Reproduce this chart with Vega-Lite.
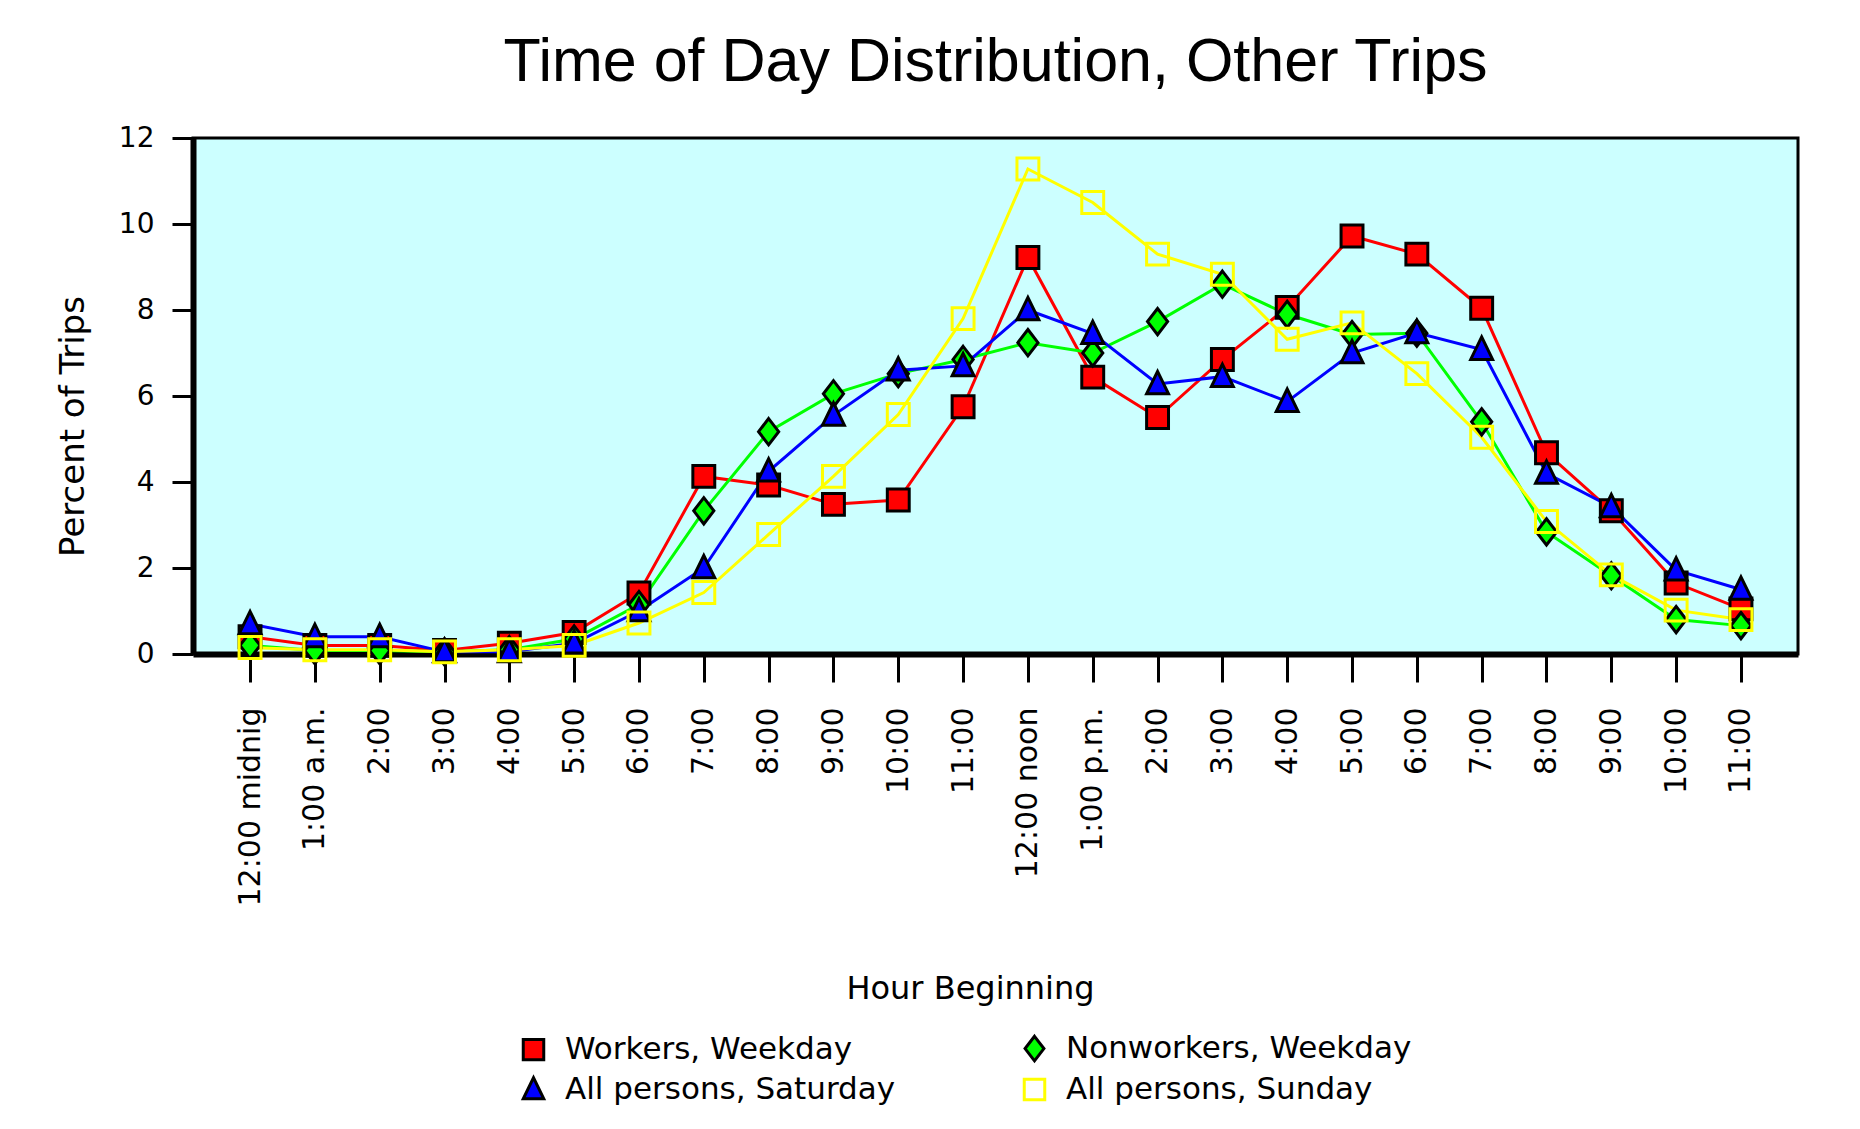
{
  "$schema": "https://vega.github.io/schema/vega-lite/v6.json",
  "autosize": {"type": "none"},
  "padding": {"left": 193, "top": 138, "right": 62, "bottom": 475},
  "width": 1605,
  "height": 516,
  "background": "white",
  "title": {"text": "Time of Day Distribution, Other Trips", "anchor": "middle", "frame": "group", "offset": 55, "dy": 73, "baseline": "alphabetic", "font": "Liberation Sans", "fontSize": 61, "fontWeight": "normal", "color": "black"},
  "datasets": {
    "trips": [
      {"hour": 0, "series": "Workers, Weekday", "value": 0.4},
      {"hour": 1, "series": "Workers, Weekday", "value": 0.2},
      {"hour": 2, "series": "Workers, Weekday", "value": 0.2},
      {"hour": 3, "series": "Workers, Weekday", "value": 0.08},
      {"hour": 4, "series": "Workers, Weekday", "value": 0.25},
      {"hour": 5, "series": "Workers, Weekday", "value": 0.5},
      {"hour": 6, "series": "Workers, Weekday", "value": 1.42},
      {"hour": 7, "series": "Workers, Weekday", "value": 4.13},
      {"hour": 8, "series": "Workers, Weekday", "value": 3.93},
      {"hour": 9, "series": "Workers, Weekday", "value": 3.48},
      {"hour": 10, "series": "Workers, Weekday", "value": 3.58},
      {"hour": 11, "series": "Workers, Weekday", "value": 5.75},
      {"hour": 12, "series": "Workers, Weekday", "value": 9.22},
      {"hour": 13, "series": "Workers, Weekday", "value": 6.44},
      {"hour": 14, "series": "Workers, Weekday", "value": 5.5},
      {"hour": 15, "series": "Workers, Weekday", "value": 6.85},
      {"hour": 16, "series": "Workers, Weekday", "value": 8.06},
      {"hour": 17, "series": "Workers, Weekday", "value": 9.72},
      {"hour": 18, "series": "Workers, Weekday", "value": 9.3},
      {"hour": 19, "series": "Workers, Weekday", "value": 8.04},
      {"hour": 20, "series": "Workers, Weekday", "value": 4.68},
      {"hour": 21, "series": "Workers, Weekday", "value": 3.33},
      {"hour": 22, "series": "Workers, Weekday", "value": 1.65},
      {"hour": 23, "series": "Workers, Weekday", "value": 1.05},
      {"hour": 0, "series": "Nonworkers, Weekday", "value": 0.2},
      {"hour": 1, "series": "Nonworkers, Weekday", "value": 0.08},
      {"hour": 2, "series": "Nonworkers, Weekday", "value": 0.08},
      {"hour": 3, "series": "Nonworkers, Weekday", "value": 0.05},
      {"hour": 4, "series": "Nonworkers, Weekday", "value": 0.1},
      {"hour": 5, "series": "Nonworkers, Weekday", "value": 0.35},
      {"hour": 6, "series": "Nonworkers, Weekday", "value": 1.15},
      {"hour": 7, "series": "Nonworkers, Weekday", "value": 3.33},
      {"hour": 8, "series": "Nonworkers, Weekday", "value": 5.17},
      {"hour": 9, "series": "Nonworkers, Weekday", "value": 6.05},
      {"hour": 10, "series": "Nonworkers, Weekday", "value": 6.52},
      {"hour": 11, "series": "Nonworkers, Weekday", "value": 6.85},
      {"hour": 12, "series": "Nonworkers, Weekday", "value": 7.24},
      {"hour": 13, "series": "Nonworkers, Weekday", "value": 7.0},
      {"hour": 14, "series": "Nonworkers, Weekday", "value": 7.73},
      {"hour": 15, "series": "Nonworkers, Weekday", "value": 8.6},
      {"hour": 16, "series": "Nonworkers, Weekday", "value": 7.9},
      {"hour": 17, "series": "Nonworkers, Weekday", "value": 7.43},
      {"hour": 18, "series": "Nonworkers, Weekday", "value": 7.46},
      {"hour": 19, "series": "Nonworkers, Weekday", "value": 5.4},
      {"hour": 20, "series": "Nonworkers, Weekday", "value": 2.84},
      {"hour": 21, "series": "Nonworkers, Weekday", "value": 1.82},
      {"hour": 22, "series": "Nonworkers, Weekday", "value": 0.8},
      {"hour": 23, "series": "Nonworkers, Weekday", "value": 0.66},
      {"hour": 0, "series": "All persons, Saturday", "value": 0.7},
      {"hour": 1, "series": "All persons, Saturday", "value": 0.4},
      {"hour": 2, "series": "All persons, Saturday", "value": 0.4},
      {"hour": 3, "series": "All persons, Saturday", "value": 0.05},
      {"hour": 4, "series": "All persons, Saturday", "value": 0.05},
      {"hour": 5, "series": "All persons, Saturday", "value": 0.25},
      {"hour": 6, "series": "All persons, Saturday", "value": 1.0},
      {"hour": 7, "series": "All persons, Saturday", "value": 2.0},
      {"hour": 8, "series": "All persons, Saturday", "value": 4.25},
      {"hour": 9, "series": "All persons, Saturday", "value": 5.55},
      {"hour": 10, "series": "All persons, Saturday", "value": 6.6},
      {"hour": 11, "series": "All persons, Saturday", "value": 6.7},
      {"hour": 12, "series": "All persons, Saturday", "value": 8.0},
      {"hour": 13, "series": "All persons, Saturday", "value": 7.45},
      {"hour": 14, "series": "All persons, Saturday", "value": 6.28},
      {"hour": 15, "series": "All persons, Saturday", "value": 6.45},
      {"hour": 16, "series": "All persons, Saturday", "value": 5.87},
      {"hour": 17, "series": "All persons, Saturday", "value": 7.0},
      {"hour": 18, "series": "All persons, Saturday", "value": 7.47},
      {"hour": 19, "series": "All persons, Saturday", "value": 7.08},
      {"hour": 20, "series": "All persons, Saturday", "value": 4.2},
      {"hour": 21, "series": "All persons, Saturday", "value": 3.42},
      {"hour": 22, "series": "All persons, Saturday", "value": 1.95},
      {"hour": 23, "series": "All persons, Saturday", "value": 1.5},
      {"hour": 0, "series": "All persons, Sunday", "value": 0.15},
      {"hour": 1, "series": "All persons, Sunday", "value": 0.1},
      {"hour": 2, "series": "All persons, Sunday", "value": 0.1},
      {"hour": 3, "series": "All persons, Sunday", "value": 0.05},
      {"hour": 4, "series": "All persons, Sunday", "value": 0.1},
      {"hour": 5, "series": "All persons, Sunday", "value": 0.2},
      {"hour": 6, "series": "All persons, Sunday", "value": 0.72},
      {"hour": 7, "series": "All persons, Sunday", "value": 1.43},
      {"hour": 8, "series": "All persons, Sunday", "value": 2.78},
      {"hour": 9, "series": "All persons, Sunday", "value": 4.13},
      {"hour": 10, "series": "All persons, Sunday", "value": 5.57},
      {"hour": 11, "series": "All persons, Sunday", "value": 7.8},
      {"hour": 12, "series": "All persons, Sunday", "value": 11.28},
      {"hour": 13, "series": "All persons, Sunday", "value": 10.5},
      {"hour": 14, "series": "All persons, Sunday", "value": 9.3},
      {"hour": 15, "series": "All persons, Sunday", "value": 8.83},
      {"hour": 16, "series": "All persons, Sunday", "value": 7.32},
      {"hour": 17, "series": "All persons, Sunday", "value": 7.7},
      {"hour": 18, "series": "All persons, Sunday", "value": 6.52},
      {"hour": 19, "series": "All persons, Sunday", "value": 5.04},
      {"hour": 20, "series": "All persons, Sunday", "value": 3.08},
      {"hour": 21, "series": "All persons, Sunday", "value": 1.84},
      {"hour": 22, "series": "All persons, Sunday", "value": 1.02},
      {"hour": 23, "series": "All persons, Sunday", "value": 0.8}
    ]
  },
  "data": {"name": "trips"},
  "encoding": {
    "x": {
      "field": "hour", "type": "ordinal", "sort": null,
      "scale": {"type": "point", "padding": 0.88},
      "axis": {
        "title": "Hour Beginning",
        "labelExpr": "['12:00 midnig','1:00 a.m.','2:00','3:00','4:00','5:00','6:00','7:00','8:00','9:00','10:00','11:00','12:00 noon','1:00 p.m.','2:00','3:00','4:00','5:00','6:00','7:00','8:00','9:00','10:00','11:00'][datum.value]",
        "labelAngle": 270, "labelAlign": "right", "labelBaseline": "middle", "labelLimit": 500,
        "labelFontSize": 30, "labelPadding": 25, "tickSize": 28,
        "titleFontSize": 32, "titleX": 777, "titleY": 319, "titleBaseline": "top", "titleAlign": "center"
      }
    },
    "y": {
      "field": "value", "type": "quantitative",
      "scale": {"domain": [0, 12], "nice": false, "zero": true},
      "axis": {
        "title": "Percent of Trips", "values": [0, 2, 4, 6, 8, 10, 12],
        "labelFontSize": 28, "labelPadding": 18, "tickSize": 21,
        "titleFontSize": 34, "titleAngle": 270, "titleX": -120, "titleY": 288,
        "titleAlign": "center", "titleBaseline": "middle"
      }
    }
  },
  "layer": [
    {
      "mark": {"type": "line", "strokeWidth": 3},
      "encoding": {
        "color": {
          "field": "series", "type": "nominal", "legend": null,
          "scale": {"domain": ["All persons, Sunday", "All persons, Saturday", "Nonworkers, Weekday", "Workers, Weekday"], "range": ["#ffff00", "#0000ff", "#00ff00", "#ff0000"]}
        }
      }
    },
    {
      "mark": {"type": "point", "filled": true, "opacity": 1, "fillOpacity": 1, "strokeWidth": 3, "size": 480},
      "encoding": {
        "shape": {
          "field": "series", "type": "nominal", "title": null,
          "scale": {"domain": ["Workers, Weekday", "Nonworkers, Weekday", "All persons, Saturday", "All persons, Sunday"], "range": ["square", "M0,-1.2L0.92,0L0,1.2L-0.92,0Z", "M0,-1.15L1,0.9L-1,0.9Z", "square"]}
        },
        "fill": {
          "field": "series", "type": "nominal", "title": null,
          "scale": {"domain": ["Workers, Weekday", "Nonworkers, Weekday", "All persons, Saturday", "All persons, Sunday"], "range": ["#ff0000", "#00ff00", "#0000ff", "transparent"]}
        },
        "stroke": {
          "field": "series", "type": "nominal", "title": null,
          "scale": {"domain": ["Workers, Weekday", "Nonworkers, Weekday", "All persons, Saturday", "All persons, Sunday"], "range": ["#000000", "#000000", "#000000", "#ffff00"]}
        }
      }
    }
  ],
  "config": {
    "font": "DejaVu Sans",
    "view": {"fill": "#ccffff", "stroke": "#000000", "strokeWidth": 3},
    "axis": {
      "grid": false, "domainColor": "#000000", "domainWidth": 6, "tickColor": "#000000", "tickWidth": 3,
      "labelColor": "#000000", "titleColor": "#000000", "titleFontWeight": "normal", "labelFont": "DejaVu Sans", "titleFont": "DejaVu Sans", "labelOverlap": false, "labelFlush": false
    },
    "legend": {
      "orient": "none", "legendX": 325, "legendY": 895, "direction": "horizontal", "columns": 2,
      "columnPadding": 122, "rowPadding": 4, "labelFontSize": 31, "labelColor": "#000000", "labelFont": "DejaVu Sans",
      "symbolSize": 420, "symbolStrokeWidth": 3, "labelOffset": 16, "labelLimit": 600
    }
  }
}
